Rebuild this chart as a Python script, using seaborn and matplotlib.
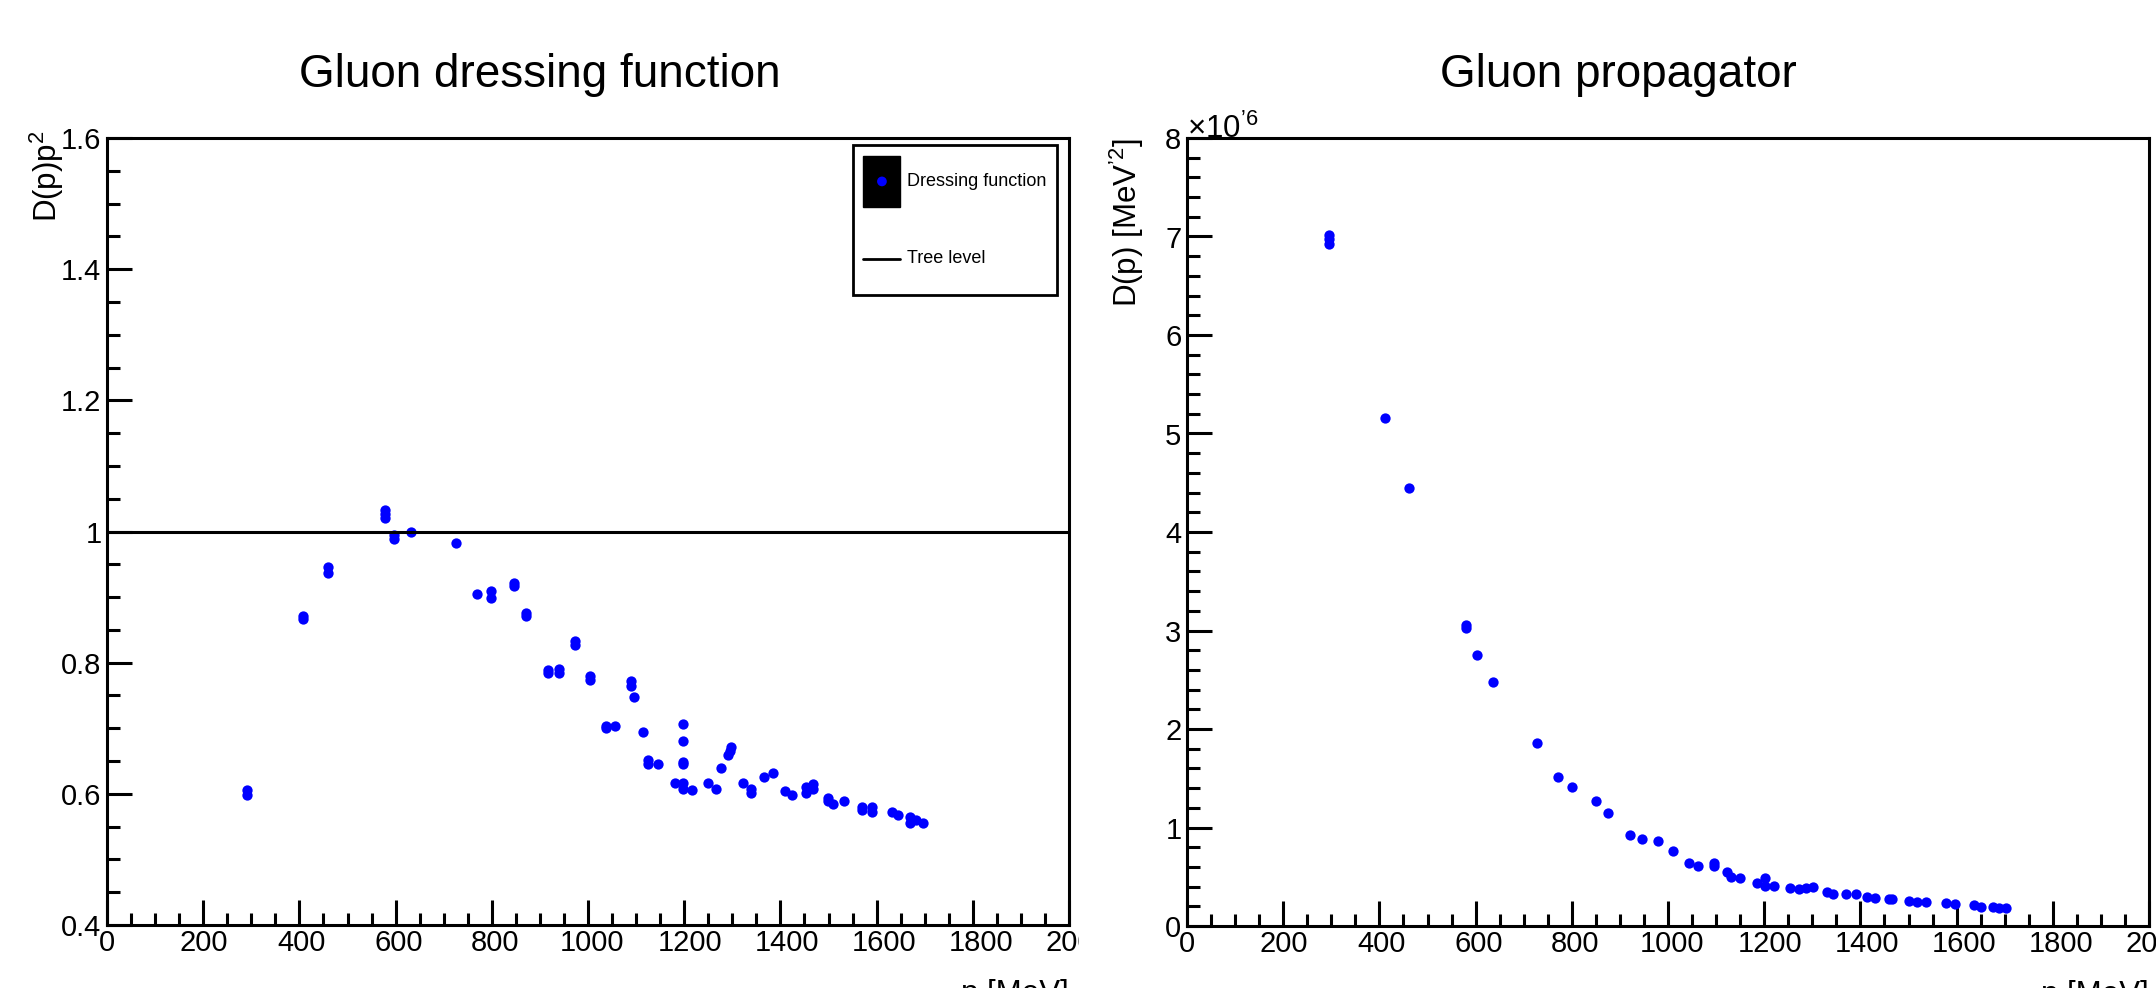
import pandas as pd
import seaborn as sns
import matplotlib.pyplot as plt
from matplotlib.ticker import MultipleLocator, FormatStrFormatter
from matplotlib.patches import Patch, Rectangle, Ellipse
from matplotlib.lines import Line2D
from matplotlib.legend_handler import HandlerBase
from matplotlib.transforms import Bbox, TransformedBbox, ScaledTranslation

# dressing function D(p)p^2 vs p [MeV]
p_dress = [292, 292, 408, 408, 459, 459, 578, 578, 578, 597, 597, 633, 725,
           770, 798, 798, 846, 846, 872, 872, 917, 917, 940, 940, 974, 974,
           1004, 1004, 1037, 1037, 1057, 1089, 1089, 1096, 1115, 1125, 1125,
           1145, 1181, 1198, 1198, 1198, 1198, 1198, 1198, 1216, 1250, 1266,
           1276, 1292, 1295, 1298, 1323, 1339, 1339, 1366, 1385, 1410, 1425,
           1453, 1453, 1468, 1468, 1498, 1498, 1510, 1532, 1570, 1570, 1591,
           1591, 1632, 1645, 1669, 1669, 1681, 1696]
dress = [0.606, 0.598, 0.871, 0.866, 0.946, 0.937, 1.033, 1.027, 1.020, 0.995,
         0.988, 0.999, 0.982, 0.904, 0.909, 0.898, 0.922, 0.917, 0.876, 0.871,
         0.789, 0.784, 0.790, 0.785, 0.833, 0.827, 0.780, 0.773, 0.704, 0.700,
         0.703, 0.772, 0.765, 0.747, 0.694, 0.652, 0.645, 0.646, 0.616, 0.706,
         0.681, 0.649, 0.645, 0.616, 0.608, 0.606, 0.617, 0.607, 0.640, 0.659,
         0.665, 0.672, 0.616, 0.608, 0.601, 0.625, 0.632, 0.605, 0.598, 0.611,
         0.602, 0.615, 0.607, 0.593, 0.589, 0.585, 0.589, 0.580, 0.575, 0.580,
         0.573, 0.572, 0.568, 0.564, 0.556, 0.560, 0.555]
tree_level = 1.0

# propagator D(p) in units of 10^-6 MeV^-2
p_prop = [296, 296, 296, 411, 461, 581, 581, 602, 637, 728, 772, 800, 850,
          876, 922, 945, 979, 1010, 1043, 1063, 1095, 1095, 1123, 1131, 1149,
          1186, 1202, 1202, 1221, 1254, 1273, 1286, 1302, 1331, 1344, 1371,
          1390, 1413, 1430, 1460, 1465, 1501, 1517, 1537, 1577, 1597, 1636,
          1650, 1676, 1689, 1703]
prop = [7.02, 6.97, 6.92, 5.16, 4.45, 3.06, 3.03, 2.75, 2.48, 1.855, 1.516,
        1.408, 1.272, 1.144, 0.924, 0.883, 0.863, 0.761, 0.643, 0.612, 0.643,
        0.612, 0.545, 0.501, 0.484, 0.433, 0.49, 0.406, 0.406, 0.382, 0.372,
        0.382, 0.393, 0.342, 0.325, 0.325, 0.325, 0.291, 0.285, 0.274, 0.274,
        0.257, 0.247, 0.24, 0.23, 0.223, 0.213, 0.196, 0.19, 0.186, 0.18]

dress_df = pd.DataFrame({"p": p_dress, "D": dress})
prop_df = pd.DataFrame({"p": p_prop, "D": prop})

sns.set_theme(style="white")
plt.rcParams['font.family'] = ['Liberation Sans', 'DejaVu Sans']
plt.rcParams['mathtext.fontset'] = 'custom'
plt.rcParams['mathtext.rm'] = 'Liberation Sans'
plt.rcParams['mathtext.it'] = 'Liberation Sans'
for key in ('text.color', 'axes.labelcolor', 'xtick.color', 'ytick.color'):
    plt.rcParams[key] = 'black'

blue = '#0000ff'


class BoxDotHandler(HandlerBase):
    # black filled box with the blue marker in its middle (ROOT style)
    def create_artists(self, legend, orig_handle, xdescent, ydescent,
                       width, height, fontsize, trans):
        box = Rectangle((-xdescent, -ydescent), width, height,
                        facecolor='black', edgecolor='black', transform=trans)
        dot = Ellipse((-xdescent + width / 2, -ydescent + height / 2), 7, 7,
                      facecolor=blue, edgecolor='none', transform=trans)
        return [box, dot]


class CenterLineHandler(HandlerBase):
    def create_artists(self, legend, orig_handle, xdescent, ydescent,
                       width, height, fontsize, trans):
        y = -ydescent + height / 2
        line = Line2D([-xdescent, -xdescent + width], [y, y], color='black',
                      lw=2, transform=trans)
        return [line]


W, H = 2156, 988
fig = plt.figure(figsize=(W / 100, H / 100), dpi=100)
ax1 = fig.add_axes([107 / W, 63 / H, 962 / W, 787 / H])
ax2 = fig.add_axes([1187 / W, 62 / H, 962 / W, 788 / H])

sns.scatterplot(data=dress_df, x="p", y="D", ax=ax1, color=blue, s=55, linewidth=0)
ax1.axhline(tree_level, color='black', lw=2.2)
sns.scatterplot(data=prop_df, x="p", y="D", ax=ax2, color=blue, s=55, linewidth=0)

ax1.set_xlim(0, 2000)
ax1.set_ylim(0.4, 1.6)
ax2.set_xlim(0, 2000)
ax2.set_ylim(0, 8)

ax1.yaxis.set_major_locator(MultipleLocator(0.2))
ax1.yaxis.set_minor_locator(MultipleLocator(0.05))
ax1.yaxis.set_major_formatter(FormatStrFormatter('%g'))
ax2.yaxis.set_major_locator(MultipleLocator(1))
ax2.yaxis.set_minor_locator(MultipleLocator(0.2))

for ax in (ax1, ax2):
    ax.xaxis.set_major_locator(MultipleLocator(200))
    ax.xaxis.set_minor_locator(MultipleLocator(50))
    ax.tick_params(which='both', direction='in', bottom=True, left=True,
                   top=False, right=False, width=2.2, color='black',
                   labelsize=21, labelcolor='black')
    ax.tick_params(which='major', length=18)
    ax.tick_params(which='minor', length=9)
    ax.tick_params(axis='x', pad=3)
    ax.tick_params(axis='y', pad=4)
    for sp in ax.spines.values():
        sp.set_linewidth(2.2)
        sp.set_color('black')
    ax.set_xlabel("p [MeV]", fontsize=22.5, loc='right')
    ax.xaxis.set_label_coords(1.0, -0.069)
    # ROOT spreads the x labels a little wider than the ticks
    for t, v in zip(ax.xaxis.get_major_ticks(), ax.xaxis.get_majorticklocs()):
        t.label1.set_transform(t.label1.get_transform() +
                               ScaledTranslation(v / 2000 * 0.09, 0, fig.dpi_scale_trans))

ax1.set_ylabel(r"D(p)p$\mathregular{^{2}}$", fontsize=22.5, loc='top')
ax1.yaxis.set_label_coords(-0.043, 1.01)
ax2.set_ylabel(r"D(p) [MeV$\mathregular{^{’2}}$]", fontsize=22.5, loc='top')
ax2.yaxis.set_label_coords(-0.043, 1.0)
ax2.text(0.0, 1.0, r"×10$\mathregular{^{’6}}$", transform=ax2.transAxes,
         fontsize=22.5, ha='left', va='baseline')

# legend of the left pad
h_dress = Patch(facecolor='black')
h_tree = Line2D([], [], color='black', lw=2)
leg = ax1.legend([h_dress, h_tree], ["Dressing function", "Tree level"],
                 handler_map={h_dress: BoxDotHandler(), h_tree: CenterLineHandler()},
                 loc='upper right', bbox_to_anchor=(0.9875, 0.991),
                 borderaxespad=0, fontsize=13, handlelength=2.05,
                 handleheight=3.97, labelspacing=1.45, borderpad=0.6,
                 handletextpad=0.35, fancybox=False, framealpha=1)
leg.get_frame().set_edgecolor('black')
leg.get_frame().set_linewidth(2)

fig.text(540 / W, 1 - 87 / H, "Gluon dressing function", fontsize=33,
         ha='center', va='baseline')
fig.text(1618 / W, 1 - 87 / H, "Gluon propagator", fontsize=33,
         ha='center', va='baseline')

# the left pad cuts its last tick label
clip = TransformedBbox(Bbox.from_extents(0, 0, 1079 / W, 1), fig.transFigure)
for t in ax1.xaxis.get_major_ticks():
    t.label1.set_clip_box(clip)
    t.label1.set_clip_on(True)

fig.savefig("out.png", dpi=100, facecolor='white')
